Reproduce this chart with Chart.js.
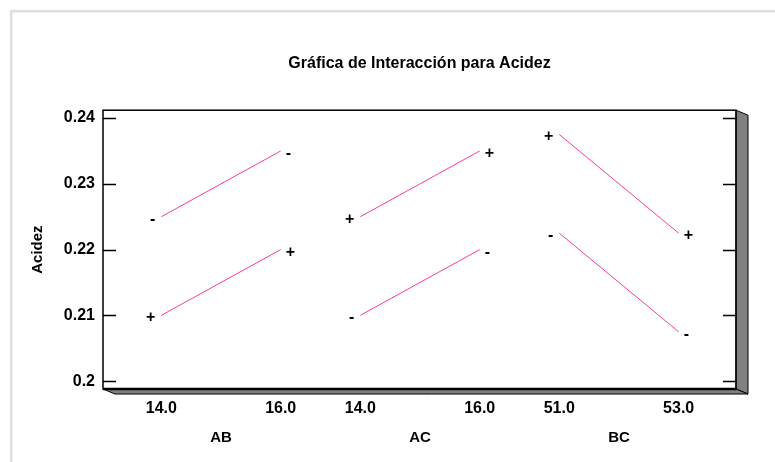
<!DOCTYPE html>
<html><head><meta charset="utf-8">
<script src="https://cdn.jsdelivr.net/npm/chart.js@4.4.1/dist/chart.umd.min.js"></script>
<style>html,body{margin:0;padding:0;background:#fff;} #wrap{width:775px;height:462px;position:relative;}</style>
</head><body><div id="wrap"><canvas id="c" width="775" height="462"></canvas></div>
<script>
// ---- data ----
const chartTitle = 'Gráfica de Interacción para Acidez';
const yAxisTitle = 'Acidez';
const factors = ['AB', 'AC', 'BC'];
const lowLabels = ['14.0', '14.0', '51.0'];
const highLabels = ['16.0', '16.0', '53.0'];
const minusLow  = [0.225, 0.210, 0.2225];
const minusHigh = [0.235, 0.220, 0.2075];
const plusLow   = [0.210, 0.225, 0.2375];
const plusHigh  = [0.220, 0.235, 0.2225];
const yTicks = [0.20, 0.21, 0.22, 0.23, 0.24];
const yTickLabels = ['0.2', '0.21', '0.22', '0.23', '0.24'];

// ---- layout helpers ----
const SPAN = 0.6;
const X_MIN = -0.293, X_MAX = 2.888;
const Y_MIN = 0.1988, Y_MAX = 0.2412;
const FONT = "'Liberation Sans', Arial, sans-serif";
const LINE_COLOR = '#ff3aa0';

const xTickPos = [], xTickLabels = [], factorPos = [];
factors.forEach((f, i) => {
  xTickPos.push(i, i + SPAN);
  xTickLabels.push(lowLabels[i], highLabels[i]);
  factorPos.push(i + SPAN / 2);
});

const datasets = [];
factors.forEach((f, i) => {
  datasets.push({ label: f + ' -', sign: '-', data: [{x: i, y: minusLow[i]}, {x: i + SPAN, y: minusHigh[i]}] });
  datasets.push({ label: f + ' +', sign: '+', data: [{x: i, y: plusLow[i]}, {x: i + SPAN, y: plusHigh[i]}] });
});
datasets.forEach(d => {
  d.borderColor = LINE_COLOR; d.borderWidth = 1; d.pointRadius = 0; d.pointHoverRadius = 0;
  d.fill = false; d.tension = 0;
});

const framePlugin = {
  id: 'frame',
  beforeDraw(chart) {
    const ctx = chart.ctx, a = chart.chartArea;
    ctx.save();
    ctx.fillStyle = '#fff';
    ctx.fillRect(0, 0, chart.width, chart.height);
    // outer light border
    ctx.strokeStyle = '#dedede';
    ctx.lineWidth = 2.5;
    ctx.strokeRect(11.2, 11.2, 900, 900);
    // 3D shadow
    const d = 12, e = 5;
    ctx.fillStyle = '#808080';
    ctx.strokeStyle = '#000';
    ctx.lineWidth = 1;
    ctx.beginPath();
    ctx.moveTo(a.right, a.top); ctx.lineTo(a.right + d, a.top + e);
    ctx.lineTo(a.right + d, a.bottom + e); ctx.lineTo(a.right, a.bottom); ctx.closePath();
    ctx.fill(); ctx.stroke();
    ctx.beginPath();
    ctx.moveTo(a.left, a.bottom); ctx.lineTo(a.right, a.bottom);
    ctx.lineTo(a.right + d, a.bottom + e); ctx.lineTo(a.left + d, a.bottom + e); ctx.closePath();
    ctx.fill(); ctx.stroke();
    ctx.restore();
  },
  afterDraw(chart) {
    const ctx = chart.ctx, a = chart.chartArea, ys = chart.scales.y;
    ctx.save();
    ctx.strokeStyle = '#000';
    ctx.lineWidth = 1.5;
    ctx.strokeRect(a.left, a.top, a.right - a.left, a.bottom - a.top);
    ctx.lineWidth = 2.5;
    ctx.beginPath(); ctx.moveTo(a.left, a.bottom); ctx.lineTo(a.right, a.bottom); ctx.stroke();
    ctx.lineWidth = 1.5;
    yTicks.forEach(v => {
      const py = Math.round(ys.getPixelForValue(v)) + 0.5;
      ctx.beginPath();
      ctx.moveTo(a.left, py); ctx.lineTo(a.left + 13, py);
      ctx.moveTo(a.right - 13, py); ctx.lineTo(a.right, py);
      ctx.stroke();
    });
    ctx.restore();
  }
};

const signPlugin = {
  id: 'signs',
  afterDatasetsDraw(chart) {
    const ctx = chart.ctx;
    ctx.save();
    ctx.fillStyle = '#000';
    ctx.font = 'bold 16px ' + FONT;
    ctx.textBaseline = 'middle';
    chart.data.datasets.forEach((ds, i) => {
      const pts = chart.getDatasetMeta(i).data;
      ctx.textAlign = 'right';
      ctx.fillText(ds.sign, pts[0].x - 6, pts[0].y + 2.5);
      ctx.textAlign = 'left';
      ctx.fillText(ds.sign, pts[1].x + 5, pts[1].y + 2.5);
    });
    ctx.restore();
  }
};

Chart.defaults.color = '#000';
Chart.defaults.font.family = FONT;

new Chart(document.getElementById('c'), {
  type: 'line',
  data: { datasets },
  options: {
    responsive: false,
    animation: false,
    events: [],
    layout: { padding: { left: 0, right: 39, top: 0, bottom: 0 } },
    plugins: {
      legend: { display: false },
      tooltip: { enabled: false },
      title: {
        display: true, text: chartTitle, fullSize: false,
        font: { size: 16, weight: 'bold', lineHeight: 1.2 },
        padding: { top: 54, bottom: 37 }
      }
    },
    scales: {
      x: {
        type: 'linear', position: 'bottom', min: X_MIN, max: X_MAX, weight: 1,
        grid: { display: false, drawTicks: false }, border: { display: false },
        afterBuildTicks: s => { s.ticks = xTickPos.map(v => ({ value: v })); },
        afterFit: s => { s.height = 35; },
        ticks: { autoSkip: false, maxRotation: 0, padding: 10,
          font: { size: 16, weight: 'bold', lineHeight: 1.2 },
          callback: (v, i) => xTickLabels[i] }
      },
      x2: {
        type: 'linear', position: 'bottom', min: X_MIN, max: X_MAX, weight: 2,
        grid: { display: false, drawTicks: false }, border: { display: false },
        afterBuildTicks: s => { s.ticks = factorPos.map(v => ({ value: v })); },
        afterFit: s => { s.height = 38; },
        ticks: { autoSkip: false, maxRotation: 0, padding: 5,
          font: { size: 15, weight: 'bold', lineHeight: 1.2 },
          callback: (v, i) => factors[i] }
      },
      y: {
        type: 'linear', position: 'left', min: Y_MIN, max: Y_MAX,
        grid: { display: false, drawTicks: false }, border: { display: false },
        afterBuildTicks: s => { s.ticks = yTicks.map(v => ({ value: v })); },
        afterFit: s => { s.width = 103; },
        ticks: { autoSkip: false, padding: 8, font: { size: 16, weight: 'bold' },
          callback: (v, i) => yTickLabels[i] },
        title: { display: true, text: yAxisTitle, font: { size: 15, weight: 'bold', lineHeight: 1.2 },
          padding: { top: 29, bottom: 0 } }
      }
    }
  },
  plugins: [framePlugin, signPlugin]
});
</script>
</body></html>
